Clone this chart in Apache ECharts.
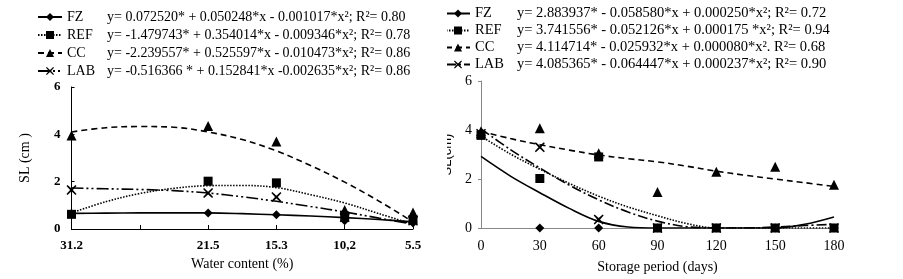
<!DOCTYPE html>
<html>
<head>
<meta charset="utf-8">
<script src="https://cdn.jsdelivr.net/npm/echarts@6/dist/echarts.min.js"></script>
</head>
<body style="margin:0; width:903px; height:279px; background:#fff; overflow:hidden">
<div id="left" style="position:absolute; left:0; top:0; width:447px; height:279px; z-index:2; background:#fff"></div>
<div id="right" style="position:absolute; left:430px; top:0; width:473px; height:279px; z-index:1"></div>

<script type="text/javascript">
    // ---- left panel: shoot length vs water content ----
    var waterLabels = ['31.2', '', '21.5', '15.3', '10,2', '5.5'];
    var waterPos = [0, 2, 3, 4, 5];
    var leftFZ = [0.65, 0.68, 0.6, 0.35, 0.25];
    var leftREF = [0.62, 2.02, 1.95, 0.55, 0.4];
    var leftCC = [3.95, 4.35, 3.7, 0.8, 0.7];
    var leftLAB = [1.65, 1.52, 1.35, 0.5, 0.35];
    // fitted curves
    var leftFitPos = [0, 0.5, 1, 1.5, 2, 2.5, 3, 3.5, 4, 4.5, 5];
    var leftFitFZ = [0.66, 0.67, 0.68, 0.68, 0.68, 0.65, 0.6, 0.55, 0.48, 0.4, 0.3];
    var leftFitREF = [0.68, 1.15, 1.5, 1.72, 1.83, 1.84, 1.75, 1.45, 1.1, 0.65, 0.2];
    var leftFitCC = [4.1, 4.28, 4.33, 4.3, 4.1, 3.78, 3.3, 2.68, 1.98, 1.18, 0.3];
    var leftFitLAB = [1.73, 1.7, 1.67, 1.62, 1.52, 1.36, 1.17, 0.95, 0.72, 0.46, 0.2];
    var leftEq = {
        FZ: 'y= 0.072520* + 0.050248*x - 0.001017*x²; R²= 0.80',
        REF: 'y= -1.479743* + 0.354014*x - 0.009346*x²; R²= 0.78',
        CC: 'y= -2.239557* + 0.525597*x - 0.010473*x²; R²= 0.86',
        LAB: 'y= -0.516366 * + 0.152841*x -0.002635*x²; R²= 0.86'
    };

    // ---- right panel: shoot length vs storage period ----
    var days = [0, 30, 60, 90, 120, 150, 180];
    var rightFZ = [3.8, 0, 0, 0, 0, 0, 0];
    var rightREF = [3.78, 2.02, 2.9, 0, 0, 0, 0];
    var rightCC = [3.95, 4.07, 3.05, 1.47, 2.3, 2.5, 1.77];
    var rightLAB = [3.85, 3.3, 0.35, 0, 0, 0, 0];
    var fitDays = [0, 15, 30, 45, 60, 75, 90, 105, 120, 135, 150, 165, 180];
    var rightFitFZ = [2.92, 2.12, 1.44, 0.8, 0.27, 0.04, 0, 0, 0, 0, 0, 0.15, 0.45];
    var rightFitREF = [3.75, 3.02, 2.4, 1.82, 1.3, 0.86, 0.5, 0.18, 0, 0, 0, 0, 0];
    var rightFitCC = [3.95, 3.65, 3.4, 3.18, 2.98, 2.83, 2.7, 2.52, 2.32, 2.15, 2.0, 1.85, 1.7];
    var rightFitLAB = [4.05, 3.2, 2.45, 1.75, 1.15, 0.65, 0.28, 0.05, 0, 0, 0.04, 0.1, 0.15];
    var rightEq = {
        FZ: 'y= 2.883937* - 0.058580*x + 0.000250*x²; R²= 0.72',
        REF: 'y= 3.741556* - 0.052126*x + 0.000175 *x²; R²= 0.94',
        CC: 'y= 4.114714* - 0.025932*x + 0.000080*x². R²= 0.68',
        LAB: 'y= 4.085365* - 0.064447*x + 0.000237*x²; R²= 0.90'
    };

    var names = ['FZ', 'REF', 'CC', 'LAB'];
    var crossPath = 'path://M1,0 L5,3.6 L9,0 L10,1 L6.4,5 L10,9 L9,10 L5,6.4 L1,10 L0,9 L3.6,5 L0,1 Z';
    var symbols = {FZ: 'diamond', REF: 'rect', CC: 'triangle', LAB: crossPath};
    var symSizes = {FZ: 9, REF: 9, CC: 10, LAB: 10};
    var serif = '"Liberation Serif", "DejaVu Serif", serif';

    function pairs(xs, ys) {
        var out = [];
        for (var i = 0; i < xs.length; i++) out.push([xs[i], ys[i]]);
        return out;
    }

    function buildSeries(fitX, fits, ptX, pts, dashes) {
        var s = [];
        // fitted curves first so the legend picks their line style
        names.forEach(function (n) {
            s.push({
                name: n, type: 'line', smooth: 0.35, showSymbol: false,
                symbol: symbols[n], symbolSize: symSizes[n],
                data: pairs(fitX, fits[n]),
                lineStyle: {color: '#000', width: 1.6, type: dashes[n]},
                itemStyle: {color: '#000'},
                silent: true, animation: false, z: 2
            });
        });
        names.forEach(function (n) {
            s.push({
                name: n, type: 'scatter',
                symbol: symbols[n], symbolSize: symSizes[n],
                data: pairs(ptX, pts[n]),
                itemStyle: {color: '#000', opacity: 1},
                animation: false, z: 3
            });
        });
        return s;
    }

    function legendOf(eq, left, top, gap, nameWidth, size) {
        return {
            orient: 'vertical', left: left, top: top, itemGap: gap,
            itemWidth: 24, itemHeight: 10, selectedMode: false,
            data: names,
            formatter: function (name) {
                return '{n|' + name + '}{e|' + eq[name] + '}';
            },
            textStyle: {
                color: '#000', fontFamily: serif, fontSize: size, lineHeight: 14,
                rich: {
                    n: {width: nameWidth, fontFamily: serif, fontSize: size, color: '#000'},
                    e: {fontFamily: serif, fontSize: size, color: '#000'}
                }
            }
        };
    }

    // left chart
    var leftChart = echarts.init(document.getElementById('left'));
    leftChart.setOption({
        backgroundColor: '#fff',
        legend: legendOf(leftEq, 32, 5, 4, 40, 14),
        grid: {left: 71.5, top: 87, width: 341.5, height: 142},
        xAxis: {
            type: 'value', min: 0, max: 5, interval: 1,
            name: 'Water content (%)', nameLocation: 'middle', nameGap: 27,
            nameTextStyle: {fontFamily: serif, fontSize: 14, color: '#000'},
            axisLine: {lineStyle: {color: '#000', width: 1}},
            axisTick: {inside: true, length: 4, lineStyle: {color: '#000'}},
            splitLine: {show: false},
            axisLabel: {
                fontFamily: serif, fontSize: 13, fontWeight: 'bold', color: '#000', margin: 10,
                formatter: function (v) { return waterLabels[v]; }
            }
        },
        yAxis: {
            type: 'value', min: 0, max: 6, interval: 2,
            name: 'SL (cm )', nameLocation: 'middle', nameGap: 39,
            nameTextStyle: {fontFamily: serif, fontSize: 14, color: '#000'},
            axisLine: {show: true, lineStyle: {color: '#000', width: 1}},
            axisTick: {show: true, inside: true, length: 3, lineStyle: {color: '#000'}},
            splitLine: {show: false},
            axisLabel: {fontFamily: serif, fontSize: 13, fontWeight: 'bold', color: '#000', margin: 11}
        },
        series: buildSeries(leftFitPos,
            {FZ: leftFitFZ, REF: leftFitREF, CC: leftFitCC, LAB: leftFitLAB},
            waterPos,
            {FZ: leftFZ, REF: leftREF, CC: leftCC, LAB: leftLAB},
            {FZ: 'solid', REF: [1.5, 1.5], CC: [6, 4], LAB: [12, 3, 2, 3, 2, 3]})
    });

    // right chart
    var rightChart = echarts.init(document.getElementById('right'));
    rightChart.setOption({
        legend: legendOf(rightEq, 10, 1, 2, 42, 14.5),
        grid: {left: 51, top: 81, width: 353, height: 148},
        xAxis: {
            type: 'value', min: 0, max: 180, interval: 30,
            name: 'Storage period (days)', nameLocation: 'middle', nameGap: 32,
            nameTextStyle: {fontFamily: serif, fontSize: 14, color: '#000'},
            axisLine: {lineStyle: {color: '#888', width: 1}},
            axisTick: {show: false},
            splitLine: {show: false},
            axisLabel: {fontFamily: serif, fontSize: 14, color: '#000', margin: 11}
        },
        yAxis: {
            type: 'value', min: 0, max: 6, interval: 2,
            name: 'SL(cm)', nameLocation: 'middle', nameGap: 27,
            nameTextStyle: {fontFamily: '"Liberation Sans", Arial, sans-serif', fontSize: 13, color: '#000'},
            axisLine: {show: true, lineStyle: {color: '#888', width: 1}},
            axisTick: {show: true, length: 3, lineStyle: {color: '#888'}},
            splitLine: {show: false},
            axisLabel: {fontFamily: serif, fontSize: 14, color: '#000', margin: 9}
        },
        series: buildSeries(fitDays,
            {FZ: rightFitFZ, REF: rightFitREF, CC: rightFitCC, LAB: rightFitLAB},
            days,
            {FZ: rightFZ, REF: rightREF, CC: rightCC, LAB: rightLAB},
            {FZ: 'solid', REF: [1.5, 1.5], CC: [6, 4], LAB: [10, 3, 2, 3]})
    });
</script>
</body>
</html>
